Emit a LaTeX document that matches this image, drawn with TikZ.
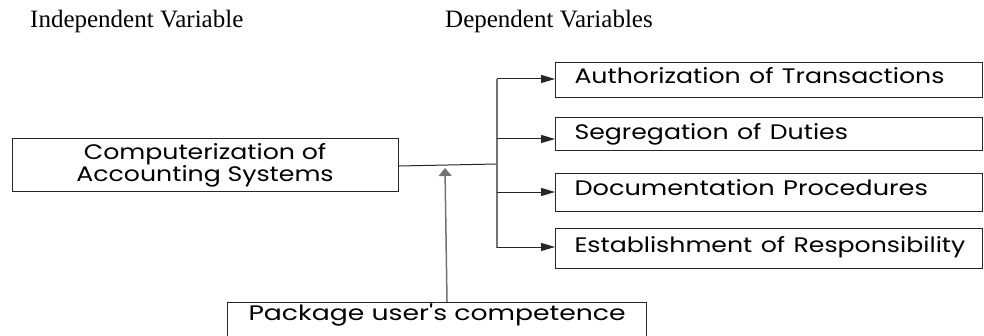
\documentclass[tikz,border=0pt]{standalone}
\usepackage{fontspec}
\setmainfont{Liberation Serif}
\newfontfamily\gothic{Poppins}
\usetikzlibrary{arrows.meta}
\newcommand\gwide[2][1.2]{\scalebox{#1}[1]{#2}}
\tikzset{
  x=1pt,y=1pt,
  heading/.style={anchor=base west, inner sep=0pt, font=\fontsize{25}{28}\selectfont},
  box/.style={draw=black!85, line width=1pt, inner ysep=0pt, font=\gothic\fontsize{21}{20}\selectfont},
  depbox/.style={box, anchor=north west, text width=389pt, inner xsep=19pt, align=left},
  conn/.style={draw=black!85, line width=1pt},
  bus/.style={draw=black!55, line width=2pt},
  arr/.style={conn, -{Triangle[length=14pt,width=8pt]}},
  uparr/.style={draw=black!55, line width=1.5pt, -{Triangle[length=8pt,width=13pt]}},
}
\begin{document}
\begin{tikzpicture}
\useasboundingbox (0,0) rectangle (984,335);
\node[heading] (indep) at (30,307.5) {Independent Variable};
\node[heading] (dep) at (445,307.5) {Dependent Variables};

\node[box, minimum width=386, minimum height=52] (comp) at (205,170)
  {\gwide{\begin{tabular}{@{}c@{}}Computerization of\\Accounting Systems\end{tabular}}};

\node[depbox, text height=21.3pt, text depth=13.7pt] (b1) at (555,273.3) {\gwide{Authorization of Transactions}};
\node[depbox, text height=21.7pt, text depth=11pt] (b2) at (555,217.7) {\gwide{Segregation of Duties}};
\node[depbox, text height=22.3pt, text depth=15.7pt] (b3) at (555,162.3) {\gwide[1.22]{Documentation Procedures}};
\node[depbox, text height=24.3pt, text depth=16.3pt] (b4) at (555,107.3) {\gwide{Establishment of Responsibility}};

\node[box, anchor=north west, inner xsep=21pt, text height=18pt, text depth=20pt] (pkg) at (227,33) {\gwide[1.27]{Package user's competence}};

\coordinate (join) at (497,171);
\coordinate (top) at (497,256);
\coordinate (bot) at (497,87);
\coordinate (meet) at (445,167);

\draw[conn] (comp.east |- 0,169) -- (join);
\draw[bus] (top) -- (bot);
\draw[arr] (top) -- (b1.west |- top);
\draw[arr] (497,196) -- (b2.west |- 0,196);
\draw[arr] (497,143) -- (b3.west |- 0,143);
\draw[arr] (497,88) -- (b4.west |- 0,88);
\draw[uparr] (pkg.north -| 447,0) -- (meet);
\end{tikzpicture}
\end{document}
